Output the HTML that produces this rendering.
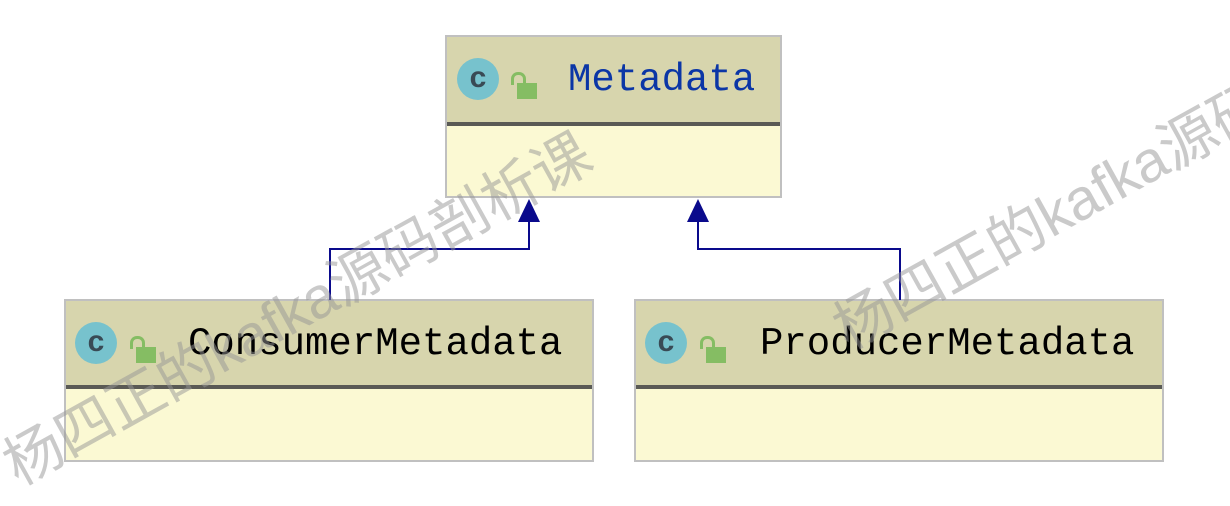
<!DOCTYPE html>
<html><head><meta charset="utf-8"><style>
body{margin:0;width:1230px;height:506px;background:#fff;position:relative;overflow:hidden;font-family:"Liberation Mono",monospace}
.box{position:absolute;border:2px solid #c0c0c0;box-sizing:border-box;background:#fbf9d3}
.hd{position:absolute;left:0;right:0;top:0;background:#d7d5ad;border-bottom:4px solid #5a5a55}
.ic{position:absolute;width:42px;height:42px;border-radius:50%;background:#77c2cd;color:#394a55;font:bold 30px "Liberation Sans",sans-serif;text-align:center;line-height:40px}
.lk{position:absolute;width:20px;height:16px;background:#85bd63}
.lk:before{content:"";position:absolute;left:-6px;top:-11px;width:9px;height:10px;border:3px solid #85bd63;border-bottom:none;border-radius:7px 7px 0 0}
.t{position:absolute;font-size:39px;line-height:40px;white-space:nowrap}
.wm{position:absolute;font:58px "Liberation Sans","Noto Sans CJK SC",sans-serif;color:rgba(150,150,150,.5);white-space:nowrap;transform-origin:0 0;transform:rotate(-29deg)}
</style></head><body>
<div class="box" style="left:445px;top:35px;width:337px;height:163px"><div class="hd" style="height:85px"></div>
<div class="ic" style="left:10px;top:21px">c</div><div class="lk" style="left:70px;top:46px"></div>
<div class="t" style="left:121px;top:23px;color:#0b36a6">Metadata</div></div>
<div class="box" style="left:64px;top:299px;width:530px;height:163px"><div class="hd" style="height:84px"></div>
<div class="ic" style="left:9px;top:21px">c</div><div class="lk" style="left:70px;top:46px"></div>
<div class="t" style="left:122px;top:23px;color:#000">ConsumerMetadata</div></div>
<div class="box" style="left:634px;top:299px;width:530px;height:163px"><div class="hd" style="height:84px"></div>
<div class="ic" style="left:9px;top:21px">c</div><div class="lk" style="left:70px;top:46px"></div>
<div class="t" style="left:124px;top:23px;color:#000">ProducerMetadata</div></div>
<svg width="1230" height="506" style="position:absolute;left:0;top:0">
<polyline points="330,300 330,249 529,249 529,220" fill="none" stroke="#0a0a8c" stroke-width="2"/>
<polygon points="529,199 518,222 540,222" fill="#0a0a8c"/>
<polyline points="900,300 900,249 698,249 698,220" fill="none" stroke="#0a0a8c" stroke-width="2"/>
<polygon points="698,199 687,222 709,222" fill="#0a0a8c"/>
</svg>
<div class="wm" style="left:-14px;top:428px">杨四正的kafka源码剖析课</div>
<div class="wm" style="left:816px;top:292px">杨四正的kafka源码剖析课</div>
</body></html>
